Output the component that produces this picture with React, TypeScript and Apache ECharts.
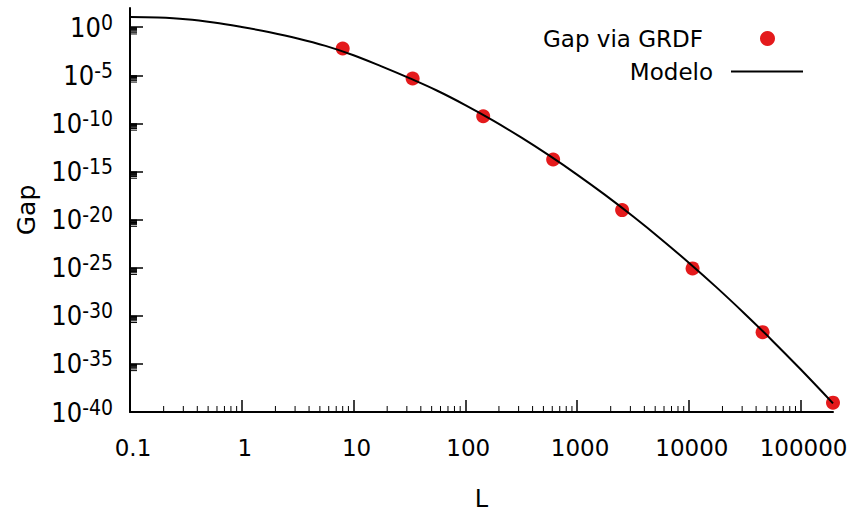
import React, { useEffect, useRef } from 'react';
import * as echarts from 'echarts';

const FONT = '"DejaVu Sans", Verdana, sans-serif';
const YFONT = '"DejaVu Sans Condensed", "Liberation Sans Narrow", "DejaVu Sans", sans-serif';
const RED = '#e41a1c';

// Measured points: "Gap via GRDF"
const gapL = [8.0, 33.8, 144.6, 611, 2530, 10800, 45700, 195000];
const gapValues = [6.2e-3, 4.7e-6, 5.6e-10, 1.8e-14, 9.8e-20, 8.5e-26, 2.0e-32, 9.3e-40];

// Model curve
const modelL = [0.1, 0.178, 0.316, 0.562, 1, 1.78, 3.16, 5.62, 10, 17.8, 31.6, 56.2, 100, 178, 316, 562, 1000, 1780, 3160, 5620, 10000, 17800, 31600, 56200, 100000, 195000];
const modelValues = [11.7, 10.2, 6.8, 3.1, 1.05, 0.30, 0.069, 0.0115, 1.23e-3, 8.5e-5, 5.1e-6, 2.5e-7, 8.1e-9, 1.95e-10, 3.5e-12, 4.7e-14, 4.8e-16, 3.7e-18, 2.2e-20, 9.8e-23, 3.3e-25, 8.5e-28, 1.66e-30, 2.45e-33, 2.75e-36, 7.9e-40];

// Axis ticks
const xMin = 0.1;
const xMax = 195000;
const yMin = 1e-40;
const yMax = 1e2;
const xTicks = [0.1, 1, 10, 100, 1000, 10000, 100000];
const yTicks = [1e-40, 1e-35, 1e-30, 1e-25, 1e-20, 1e-15, 1e-10, 1e-5, 1];
const xMinorTicks: number[] = [];
[-1, 0, 1, 2, 3, 4, 5].forEach((n) => {
  for (let j = 2; j <= 9; j++) {
    const v = j * Math.pow(10, n);
    if (v < xMax) xMinorTicks.push(v);
  }
});
const yMinorTicks: number[] = [];
[0, -5, -10, -15, -20, -25, -30, -35].forEach((k) => {
  for (let j = 2; j <= 9; j++) yMinorTicks.push(j * Math.pow(10, k - 1));
});

export default function App() {
  const ref = useRef<HTMLDivElement>(null);
  useEffect(() => {
    document.body.style.margin = '0';
    const chart = echarts.init(ref.current!, null, { renderer: 'svg' });
    const option: any = {
      animation: false,
      backgroundColor: '#fff',
      grid: { left: 130, right: 20, top: 8, bottom: 101, outerBoundsMode: 'none' },
      legend: [
        {
          data: [{ name: 'Gap via GRDF', icon: 'circle' }],
          orient: 'vertical',
          align: 'right',
          right: 78,
          top: 27,
          padding: 0,
          itemWidth: 15,
          itemHeight: 15,
          selectedMode: false,
          textStyle: { fontFamily: FONT, fontSize: 23, color: '#000', padding: [0, 52, 0, 0] },
        },
        {
          data: [{ name: 'Modelo', icon: 'rect' }],
          orient: 'vertical',
          align: 'right',
          right: 50,
          top: 60,
          padding: 0,
          itemWidth: 72,
          itemHeight: 2,
          selectedMode: false,
          textStyle: { fontFamily: FONT, fontSize: 23, color: '#000', padding: [0, 13, 0, 0] },
        },
      ],
      xAxis: {
        type: 'log',
        logBase: 10,
        min: xMin,
        max: xMax,
        name: 'L',
        nameLocation: 'middle',
        nameGap: 75,
        nameTextStyle: { fontFamily: FONT, fontSize: 24, color: '#000' },
        axisLine: { lineStyle: { color: '#000', width: 2 } },
        axisTick: { inside: true, length: 12, lineStyle: { color: '#000', width: 1.5 }, customValues: xTicks },
        axisLabel: {
          customValues: xTicks,
          margin: 24,
          fontFamily: FONT,
          fontSize: 23,
          color: '#000',
          padding: [0, 0, 0, 6],
          formatter: (v: number) => String(v),
        },
        splitLine: { show: false },
        minorTick: { show: false },
      },
      yAxis: {
        type: 'log',
        logBase: 10,
        min: yMin,
        max: yMax,
        name: 'Gap',
        nameLocation: 'middle',
        nameRotate: 90,
        nameGap: 91,
        nameTextStyle: { fontFamily: FONT, fontSize: 25, color: '#000' },
        axisLine: { lineStyle: { color: '#000', width: 2 } },
        axisTick: { inside: true, length: 13, lineStyle: { color: '#000', width: 1.5 }, customValues: yTicks },
        axisLabel: {
          customValues: yTicks,
          margin: 17,
          formatter: (v: number) => `{b|10}{s|${Math.round(Math.log10(v))}}`,
          rich: {
            b: { fontFamily: YFONT, fontSize: 27, color: '#000', lineHeight: 30 },
            s: { fontFamily: YFONT, fontSize: 21, color: '#000', lineHeight: 18, verticalAlign: 'top' },
          },
        },
        splitLine: { show: false },
        minorTick: { show: false },
      },
      series: [
        {
          type: 'custom',
          silent: true,
          data: xMinorTicks.map((v) => [v, yMin]),
          renderItem: (params: any, api: any) => {
            const p = api.coord([api.value(0), yMin]);
            return {
              type: 'line',
              shape: { x1: p[0], y1: p[1], x2: p[0], y2: p[1] - 6 },
              style: { stroke: '#000', lineWidth: 1 },
            };
          },
          z: 1,
        },
        {
          type: 'custom',
          silent: true,
          data: yMinorTicks.map((v) => [xMin, v]),
          renderItem: (params: any, api: any) => {
            const p = api.coord([xMin, api.value(1)]);
            return {
              type: 'line',
              shape: { x1: p[0], y1: p[1], x2: p[0] + 7, y2: p[1] },
              style: { stroke: '#000', lineWidth: 1 },
            };
          },
          z: 1,
        },
        {
          name: 'Gap via GRDF',
          type: 'scatter',
          data: gapL.map((l, i) => [l, gapValues[i]]),
          symbol: 'circle',
          symbolSize: 14,
          itemStyle: { color: RED, opacity: 1 },
          clip: false,
          z: 2,
        },
        {
          name: 'Modelo',
          type: 'line',
          data: modelL.map((l, i) => [l, modelValues[i]]),
          smooth: 0.4,
          symbol: 'none',
          showSymbol: false,
          lineStyle: { color: '#000', width: 2 },
          itemStyle: { color: '#000' },
          clip: true,
          z: 3,
        },
      ],
    };
    chart.setOption(option);
    return () => chart.dispose();
  }, []);
  return <div ref={ref} style={{ width: 853, height: 513 }} />;
}
